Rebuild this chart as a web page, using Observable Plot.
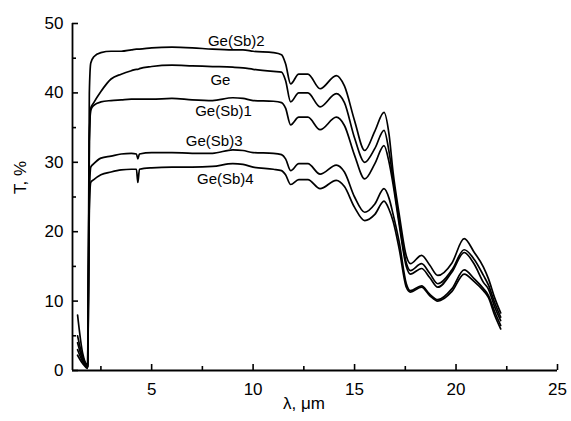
<!DOCTYPE html>
<html>
<head>
<meta charset="utf-8">
<script src="https://cdn.jsdelivr.net/npm/d3@7"></script>
<script src="https://cdn.jsdelivr.net/npm/@observablehq/plot@0.6"></script>
<style>
  html, body { margin: 0; padding: 0; background: #fff; }
</style>
</head>
<body>
<div id="chart"></div>
<script>
// Wavelength, µm
const wavelength = [1.35, 1.6, 1.85, 1.93, 2.0, 2.15, 2.5, 3.0, 3.5, 4.0, 4.25, 4.32, 4.4, 5.0, 6.0, 7.0, 8.0, 9.0, 9.5, 10.0, 11.0, 11.4, 11.6, 11.85, 12.25, 12.7, 13.3, 14.1, 14.5, 15.0, 15.5, 16.0, 16.45, 16.7, 16.9, 17.2, 17.55, 17.75, 18.3, 18.7, 19.1, 19.8, 20.4, 20.9, 21.35, 21.6, 21.9, 22.2];

// Transmission T, %
const geSb2 = [8.0, 2.5, 0.8, 40.0, 44.3, 45.2, 45.8, 46.0, 46.0, 46.2, 46.3, 46.3, 46.3, 46.5, 46.6, 46.5, 46.3, 46.2, 46.2, 46.0, 45.8, 45.5, 44.2, 41.3, 42.7, 42.7, 40.6, 42.5, 41.0, 36.0, 31.7, 34.5, 37.2, 34.0, 28.5, 22.5, 16.5, 15.4, 16.6, 15.2, 13.7, 15.5, 19.0, 17.0, 14.9, 13.2, 10.5, 8.3];
const ge    = [5.0, 2.0, 0.6, 33.0, 37.8, 38.6, 40.2, 42.0, 42.7, 43.2, 43.4, 43.4, 43.5, 43.8, 44.0, 43.9, 43.8, 43.7, 43.6, 43.4, 43.1, 43.0, 41.8, 38.7, 40.0, 40.0, 38.0, 39.9, 38.6, 33.5, 30.0, 32.0, 34.6, 31.5, 27.5, 21.5, 15.5, 14.4, 15.4, 14.0, 12.5, 14.5, 17.4, 16.0, 13.7, 12.3, 9.8, 7.7];
const geSb1 = [4.0, 1.6, 0.5, 33.0, 37.5, 38.2, 38.7, 38.9, 39.0, 39.1, 39.1, 39.1, 39.1, 39.1, 39.2, 39.0, 38.9, 39.3, 39.2, 38.9, 38.8, 38.6, 37.8, 35.4, 36.5, 36.5, 34.7, 36.5, 35.3, 31.0, 27.6, 29.8, 32.4, 30.0, 26.8, 21.0, 15.0, 13.9, 14.7, 13.4, 12.0, 14.2, 17.0, 15.3, 12.7, 11.7, 9.2, 7.2];
const geSb3 = [3.0, 1.3, 0.4, 25.0, 29.3, 29.8, 30.6, 30.9, 31.2, 31.3, 31.2, 30.5, 31.2, 31.4, 31.4, 31.3, 31.3, 31.8, 31.7, 31.4, 31.3, 31.1, 30.5, 28.8, 29.8, 29.8, 28.3, 29.6, 28.6, 25.0, 22.8, 24.0, 26.2, 24.8, 22.5, 18.5, 12.5, 11.5, 12.2, 11.0, 10.2, 11.8, 14.5, 13.2, 11.8, 10.8, 8.5, 6.5];
const geSb4 = [2.2, 1.0, 0.3, 23.0, 27.1, 27.5, 28.2, 28.6, 28.9, 29.0, 29.0, 27.1, 29.0, 29.2, 29.3, 29.3, 29.4, 29.8, 29.7, 29.3, 29.0, 28.8, 28.2, 26.8, 27.5, 27.5, 26.2, 27.4, 26.5, 23.5, 21.6, 22.5, 24.4, 23.2, 21.5, 17.5, 12.0, 11.3, 12.0, 10.8, 10.0, 11.4, 13.9, 12.8, 11.5, 10.5, 8.0, 6.0];

const seriesNames = ["Ge(Sb)2", "Ge", "Ge(Sb)1", "Ge(Sb)3", "Ge(Sb)4"];
const seriesValues = [geSb2, ge, geSb1, geSb3, geSb4];

// Curve label anchors (data units)
const labelNames = ["Ge(Sb)2", "Ge", "Ge(Sb)1", "Ge(Sb)3", "Ge(Sb)4"];
const labelX = [9.17, 8.39, 8.54, 8.08, 8.63];
const labelY = [47.4, 41.8, 37.3, 33.0, 27.6];

// Axis ticks
const xTicks = [5, 10, 15, 20, 25];
const xMinorTicks = [2.5, 7.5, 12.5, 17.5, 22.5];
const yTicks = [0, 10, 20, 30, 40, 50];
const yMinorTicks = [5, 15, 25, 35, 45];

const xDomain = [1.1, 25];
const yDomain = [0, 50];

const rows = [];
seriesNames.forEach((name, s) => {
  wavelength.forEach((w, i) => rows.push({series: name, x: w, y: seriesValues[s][i]}));
});
const labels = labelNames.map((n, i) => ({name: n, x: labelX[i], y: labelY[i]}));

const W = 571, H = 421;
const mL = 72, mR = 14, mT = 23, mB = 51;
const frameW = W - mL - mR, frameH = H - mT - mB;

const chart = Plot.plot({
  width: W,
  height: H,
  marginLeft: mL,
  marginRight: mR,
  marginTop: mT,
  marginBottom: mB,
  x: {domain: xDomain},
  y: {domain: yDomain},
  style: {fontFamily: "'Liberation Sans', Arial, sans-serif", color: "#000", background: "#fff"},
  marks: [
    // inward major / minor ticks
    Plot.tickX(xTicks, {x: d => d, stroke: "#000", strokeWidth: 1.6, insetTop: frameH - 6}),
    Plot.tickX(xMinorTicks, {x: d => d, stroke: "#000", strokeWidth: 1.6, insetTop: frameH - 4}),
    Plot.tickY(yTicks, {y: d => d, stroke: "#000", strokeWidth: 1.6, insetRight: frameW - 6}),
    Plot.tickY(yMinorTicks, {y: d => d, stroke: "#000", strokeWidth: 1.6, insetRight: frameW - 4}),
    Plot.axisX({ticks: xTicks, tickSize: 0, tickPadding: 12, fontSize: 17, label: null}),
    Plot.axisY({ticks: yTicks, tickSize: 0, tickPadding: 9, fontSize: 17, label: null}),
    Plot.ruleX([xDomain[0]], {stroke: "#000", strokeWidth: 1.8}),
    Plot.ruleY([yDomain[0]], {stroke: "#000", strokeWidth: 1.8}),
    Plot.line(rows, {x: "x", y: "y", z: "series", stroke: "#000", strokeWidth: 1.7, curve: "monotone-x"}),
    Plot.text(labels, {x: "x", y: "y", text: "name", fontSize: 15, fill: "#000"}),
    Plot.text(["λ, μm"], {frameAnchor: "bottom", dx: -11, dy: 38, fontSize: 17, fill: "#000"}),
    Plot.text(["T, %"], {frameAnchor: "left", dx: -52, dy: -3, rotate: -90, fontSize: 17, fill: "#000"})
  ]
});
document.getElementById("chart").appendChild(chart);
</script>
</body>
</html>
